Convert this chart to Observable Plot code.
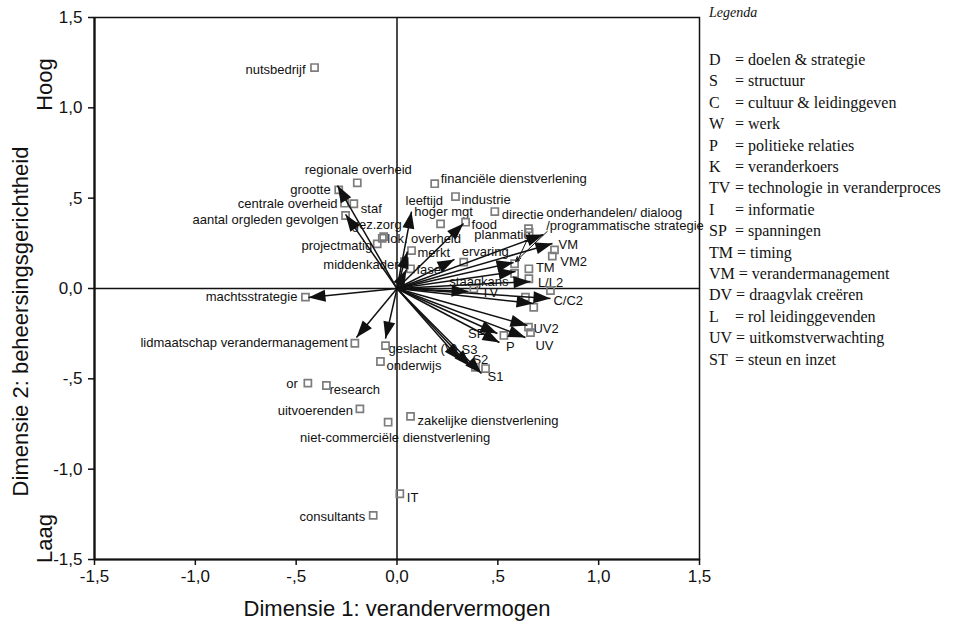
<!DOCTYPE html>
<html>
<head>
<meta charset="utf-8">
<script src="https://cdn.jsdelivr.net/npm/d3@7"></script>
<script src="https://cdn.jsdelivr.net/npm/@observablehq/plot@0.6"></script>
<style>
  html, body { margin: 0; padding: 0; background: #fff; }
  #wrap { position: relative; width: 953px; height: 630px; overflow: hidden; }
  #chart { position: absolute; left: 0; top: 0; }
  #legend { position: absolute; left: 709px; top: 0; font-family: "Liberation Serif", "Times New Roman", serif; color: #111; }
  #legend .title { position: absolute; top: 5px; left: 0; font-style: italic; font-size: 14px; white-space: nowrap; }
  #legend .rows { position: absolute; top: 49px; left: 0; font-size: 16px; line-height: 21.4px; white-space: nowrap; }
  #legend .code { display: inline-block; min-width: 22px; margin-right: 4px; }
</style>
</head>
<body>
<div id="wrap"><div id="chart"></div><div id="legend"></div></div>
<script>
// Category points (object scores on both dimensions)
const catNames = [
  "nutsbedrijf", "regionale overheid", "grootte", "centrale overheid", "staf",
  "aantal orgleden gevolgen", "gez.zorg", "lok. overheid", "projectmatig", "middenkader",
  "merkt", "fase", "hoger mgt", "financiële dienstverlening", "industrie",
  "directie", "food", "ervaring", "", "",
  "", "VM2", "TM", "", "staagkans",
  "L/L2", "", "", "", "",
  "", "", "P", "", "",
  "machtsstrategie", "lidmaatschap verandermanagement", "geslacht (V)", "onderwijs", "or",
  "research", "uitvoerenden", "niet-commerciële dienstverlening", "zakelijke dienstverlening", "IT",
  "consultants"
];
const catX = [
  -0.409, -0.197, -0.289, -0.260, -0.214,
  -0.255, -0.066, -0.073, -0.098, 0.037,
  0.072, 0.067, 0.216, 0.187, 0.290,
  0.485, 0.340, 0.331, 0.652, 0.655,
  0.781, 0.770, 0.654, 0.583, 0.583,
  0.654, 0.761, 0.381, 0.637, 0.678,
  0.652, 0.662, 0.530, 0.439, 0.389,
  -0.454, -0.209, -0.057, -0.082, -0.442,
  -0.350, -0.184, -0.044, 0.067, 0.014,
  -0.118
];
const catY = [
  1.223, 0.585, 0.546, 0.472, 0.469,
  0.404, 0.287, 0.278, 0.247, 0.148,
  0.210, 0.109, 0.358, 0.580, 0.509,
  0.426, 0.367, 0.146, 0.331, 0.310,
  0.214, 0.179, 0.109, 0.137, 0.083,
  0.054, -0.011, -0.002, -0.048, -0.104,
  -0.214, -0.244, -0.260, -0.443, -0.436,
  -0.048, -0.303, -0.316, -0.404, -0.524,
  -0.537, -0.666, -0.740, -0.708, -1.136,
  -1.256
];

// Variable loadings, drawn as arrows from the origin
const varNames = [
  "", "", "", "", "",
  "leeftijd", "", "", "", "",
  "", "VM", "", "", "",
  "TV", "", "C/C2", "UV2", "UV",
  "SP", "", "S3", "S2", "S1"
];
const varX = [
  -0.295, -0.255, -0.439, -0.201, -0.057,
  0.072, 0.052, 0.047, 0.330, 0.285,
  0.726, 0.771, 0.578, 0.588, 0.662,
  0.355, 0.677, 0.761, 0.647, 0.637,
  0.498, 0.508, 0.315, 0.364, 0.419
];
const varY = [
  0.570, 0.410, -0.050, -0.271, -0.277,
  0.426, 0.205, 0.105, 0.360, 0.161,
  0.299, 0.249, 0.144, 0.094, 0.039,
  -0.017, -0.083, -0.055, -0.205, -0.271,
  -0.249, -0.299, -0.399, -0.432, -0.470
];

// Strategy labels connected to their loadings by leader lines
const leaderNames = ["onderhandelen/ dialoog\n/programmatische strategie", "planmatig"];
const leaderX1 = [0.745, 0.653];
const leaderY1 = [0.316, 0.288];
const leaderX2 = [0.588, 0.598];
const leaderY2 = [0.149, 0.155];

const axisTicks = [-1.5, -1, -0.5, 0, 0.5, 1, 1.5];

const legendCodes = ["D", "S", "C", "W", "P", "K", "TV", "I", "SP", "TM", "VM", "DV", "L", "UV", "ST"];
const legendTexts = [
  "doelen &amp; strategie", "structuur", "cultuur &amp; leidinggeven", "werk", "politieke relaties",
  "veranderkoers", "technologie in veranderproces", "informatie", "spanningen", "timing",
  "verandermanagement", "draagvlak creëren", "rol leidinggevenden", "uitkomstverwachting", "steun en inzet"
];

// Label placement: [text anchor, dx, dy] in pixels
const labelPlacement = {
  "nutsbedrijf": ["end", -9, 2],
  "regionale overheid": ["middle", 1, -13],
  "grootte": ["end", -8, 0],
  "centrale overheid": ["end", -7, 1],
  "staf": ["start", 7, 5],
  "aantal orgleden gevolgen": ["end", -7, 4],
  "gez.zorg": ["middle", -7, -12],
  "lok. overheid": ["start", 5, 1],
  "projectmatig": ["end", -5, 2],
  "middenkader": ["end", -6, 3],
  "merkt": ["start", 6, 2],
  "fase": ["start", 6, 1],
  "hoger mgt": ["middle", 3, -12],
  "financiële dienstverlening": ["start", 6, -5],
  "industrie": ["start", 6, 3],
  "directie": ["start", 7, 3],
  "food": ["start", 6, 3],
  "ervaring": ["start", -2, -10],
  "VM2": ["start", 8, 6],
  "TM": ["start", 7, -1],
  "staagkans": ["end", -6, 8],
  "L/L2": ["start", 9, 4],
  "P": ["start", 2, 11],
  "machtsstrategie": ["end", -8, 0],
  "lidmaatschap verandermanagement": ["end", -7, 0],
  "geslacht (V)": ["start", 3, 3],
  "onderwijs": ["start", 6, 4],
  "or": ["end", -10, 1],
  "research": ["start", 3, 4],
  "uitvoerenden": ["end", -7, 2],
  "niet-commerciële dienstverlening": ["middle", 7, 16],
  "zakelijke dienstverlening": ["start", 7, 4],
  "IT": ["start", 7, 4],
  "consultants": ["end", -8, 1],
  "leeftijd": ["start", -6, -11],
  "VM": ["start", 6, 1],
  "TV": ["start", 13, 1],
  "C/C2": ["start", 3, 2],
  "UV2": ["start", 6, 3],
  "UV": ["start", 10, 8],
  "SP": ["end", -12, 0],
  "S3": ["start", 1, -11],
  "S2": ["start", 2, -7],
  "S1": ["start", 6, 3]
};

const cats = catNames.map((name, i) => ({name, x: catX[i], y: catY[i]}));
const vars = varNames.map((name, i) => ({name, x: varX[i], y: varY[i]}));
const leaders = leaderNames.map((name, i) => ({name, x1: leaderX1[i], y1: leaderY1[i], x2: leaderX2[i], y2: leaderY2[i]}));

// Layout
const W = 716, H = 630, ML = 94, MR = 17, MT = 17, MB = 71;
const span = 3; // domain width of both axes
const kx = (W - ML - MR) / span, ky = (H - MT - MB) / span;

// SPSS-style decimal comma labels: ",5", "-,5", "1,0"
const spss = d => {
  if (d === 0) return "0,0";
  const a = Math.abs(d);
  const s = a >= 1 ? a.toFixed(1).replace(".", ",") : "," + a.toFixed(1).split(".")[1];
  return (d < 0 ? "-" : "") + s;
};

// Filled arrowhead with its tip at the symbol origin, pointing up
const arrowHead = {
  draw(ctx) { ctx.moveTo(0, 0); ctx.lineTo(-6, 17); ctx.lineTo(6, 17); ctx.closePath(); }
};
const headAngle = d => Math.atan2(d.x * kx, d.y * ky) * 180 / Math.PI;

const labelled = [...cats, ...vars].filter(d => d.name && labelPlacement[d.name]);
const labelMarks = labelled.map(d => {
  const [anchor, dx, dy] = labelPlacement[d.name];
  return Plot.text([d], {x: "x", y: "y", text: "name", textAnchor: anchor, dx, dy, fontSize: 13, fill: "#111"});
});

const hasAxisMarks = typeof Plot.axisX === "function";
const axisMarks = hasAxisMarks ? [
  Plot.axisX({ticks: axisTicks, tickFormat: spss, tickSize: 6, tickPadding: 4, fontSize: 17, label: null, strokeWidth: 1.5}),
  Plot.axisY({ticks: axisTicks, tickFormat: spss, tickSize: 6, tickPadding: 6, fontSize: 17, label: null, strokeWidth: 1.5})
] : [];

const title = (text, opts) => Plot.text([text], {textAnchor: "middle", lineAnchor: "middle", fontSize: 22, fill: "#111", ...opts});

const chart = Plot.plot({
  width: W, height: H,
  marginLeft: ML, marginRight: MR, marginTop: MT, marginBottom: MB,
  x: {domain: [-1.5, 1.5], ticks: axisTicks, tickFormat: spss, tickSize: 6, tickPadding: 4, label: null},
  y: {domain: [-1.5, 1.5], ticks: axisTicks, tickFormat: spss, tickSize: 6, tickPadding: 6, label: null},
  style: {fontFamily: "'Liberation Sans', Arial, sans-serif", fontSize: "17px", color: "#111", background: "transparent"},
  marks: [
    ...axisMarks,
    Plot.frame({stroke: "#111", strokeWidth: 1.5}),
    Plot.ruleX([-1.5], {stroke: "#111", strokeWidth: 2.2}),
    Plot.ruleY([-1.5], {stroke: "#111", strokeWidth: 2.2}),
    Plot.ruleX([0], {stroke: "#111", strokeWidth: 1.5}),
    Plot.ruleY([0], {stroke: "#111", strokeWidth: 1.5}),
    ...labelMarks,
    Plot.text(leaders.slice(0, 1), {x: "x1", y: "y1", text: "name", textAnchor: "start", lineAnchor: "bottom", dx: -1, dy: -1, fontSize: 13, fill: "#111"}),
    Plot.text(leaders.slice(1), {x: "x1", y: "y1", text: "name", textAnchor: "end", dx: 2, dy: -2, fontSize: 13, fill: "#111"}),
    Plot.dot(cats, {x: "x", y: "y", symbol: "square", r: 4, stroke: "#7d7d7d", strokeWidth: 1.7, fill: "none"}),
    Plot.link(vars, {x1: 0, y1: 0, x2: "x", y2: "y", stroke: "#111", strokeWidth: 1.5}),
    Plot.dot(vars, {x: "x", y: "y", symbol: arrowHead, r: 5, rotate: headAngle, fill: "#111", stroke: "none"}),
    Plot.arrow(leaders, {x1: "x1", y1: "y1", x2: "x2", y2: "y2", stroke: "#111", strokeWidth: 1, headLength: 6}),
    // axis titles
    title("Dimensie 1: verandervermogen", {frameAnchor: "bottom", dy: 49}),
    title("Dimensie 2: beheersingsgerichtheid", {frameAnchor: "left", rotate: -90, dx: -74, dy: 33}),
    title("Hoog", {frameAnchor: "left", rotate: -90, dx: -50, dy: -204}),
    title("Laag", {frameAnchor: "left", rotate: -90, dx: -50, dy: 250})
  ]
});
document.getElementById("chart").appendChild(chart);

// Legend of variable abbreviations
const legend = document.getElementById("legend");
legend.innerHTML = `<div class="title">Legenda</div><div class="rows">` +
  legendCodes.map((c, i) => `<div><span class="code">${c}</span>= ${legendTexts[i]}</div>`).join("") +
  `</div>`;
</script>
</body>
</html>
